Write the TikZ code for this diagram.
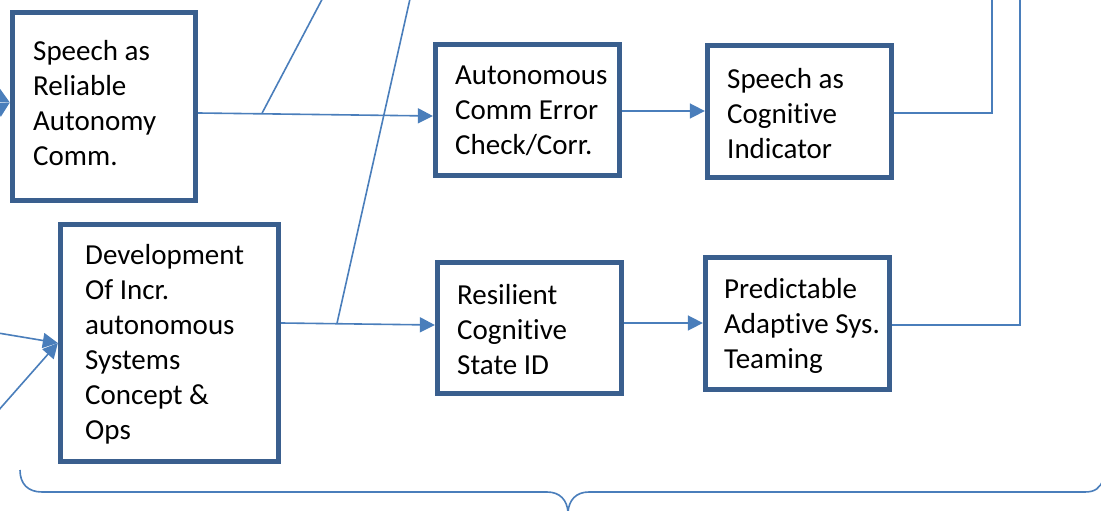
\documentclass[tikz,border=0pt]{standalone}
\usepackage{fontspec}
\setmainfont{Carlito}[Ligatures={NoCommon,NoRare,NoContextual},RawFeature={-liga;-clig;-calt;-dlig}]
\usetikzlibrary{arrows.meta}
\definecolor{boxblue}{RGB}{58,95,142}
\definecolor{lineblue}{RGB}{74,126,187}
\newcommand{\nolig}{\kern0pt}
\tikzset{
  box/.style={draw=boxblue, line width=4.8bp, fill=white, inner sep=0pt, rectangle},
  txt/.style={anchor=west, align=left, inner sep=0pt, font=\fontsize{29bp}{35bp}\selectfont, text=black},
  conn/.style={draw=lineblue, line width=1.6bp},
  arr/.style={conn, -{Triangle[length=15bp, width=15bp]}},
}
\begin{document}
\begin{tikzpicture}[x=1bp, y=-1bp]
\useasboundingbox (0,0) rectangle (1101,511);
\clip (0,0) rectangle (1101,511);

% boxes
\node[box, minimum width=183.5bp, minimum height=188.5bp] (A) at (104,106.5) {};
\node[box, minimum width=218.5bp, minimum height=237.5bp] (B) at (169.5,343) {};
\node[box, minimum width=184.5bp, minimum height=131.5bp] (C) at (527.5,110) {};
\node[box, minimum width=184.5bp, minimum height=132.5bp] (D) at (799.5,111.5) {};
\node[box, minimum width=184.5bp, minimum height=131.5bp] (E) at (529.5,328) {};
\node[box, minimum width=184.5bp, minimum height=132.5bp] (F) at (797.5,323.5) {};

% texts
\node[txt] (At) at (33,103) {Speech as\\Reliable\\Autonomy\\Comm.};
\node[txt] (Bt) at (85,344) {Development\\Of Incr.\\autonomous\\Systems\\Concept \&\\Ops};
\node[txt] (Ct) at (455,111) {Autonomous\\Comm Error\\Check/Corr.};
\node[txt] (Dt) at (727,113.5) {Speech as\\Cognit\nolig ive\\Indicator};
\node[txt] (Et) at (457,330) {Resilient\\Cognit\nolig ive\\State ID};
\node[txt] (Ft) at (724,325.5) {Predictable\\Adaptive Sys.\\Teaming};

% free ends
\coordinate (p1) at (262,113.3);
\coordinate (q1) at (327,-10);
\coordinate (p2) at (337,323.3);
\coordinate (q2) at (412,-10);
\coordinate (a1) at (-30,82);
\coordinate (a2) at (-30,126);
\coordinate (b1) at (-20,330);
\coordinate (b2) at (-10,420);
\coordinate (r1) at (992,-10);
\coordinate (r2) at (1020,-10);

% connectors
\draw[arr] ([yshift=-6.5bp]A.east) -- ([yshift=-6bp]C.west);
\draw[conn] (p1) -- (q1);
\draw[conn] (p2) -- (q2);
\draw[arr] ([yshift=20bp]B.east) -- ([yshift=3bp]E.west);
\draw[arr] ([yshift=-1bp]C.east) -- ([yshift=0.5bp]D.west);
\draw[arr] ([yshift=5bp]E.east) -- ([yshift=0.5bp]F.west);
\draw[conn] ([yshift=-1.5bp]D.east) -| (r1);
\draw[conn] ([yshift=-1.5bp]F.east) -| (r2);
\draw[arr] (a1) -- ([yshift=4bp]A.west);
\draw[arr] (a2) -- ([yshift=4bp]A.west);
\draw[arr] (b1) -- (B.west);
\draw[arr] (b2) -- (B.west);

% brace
\draw[conn] (20,470) .. controls (20,484) and (28,492) .. (42,492)
  -- (547,492) .. controls (560,492) and (567,500) .. (568,512)
  .. controls (569,500) and (576,492) .. (589,492)
  -- (1085,492) .. controls (1095,492) and (1100,488) .. (1103,480);
\end{tikzpicture}
\end{document}
